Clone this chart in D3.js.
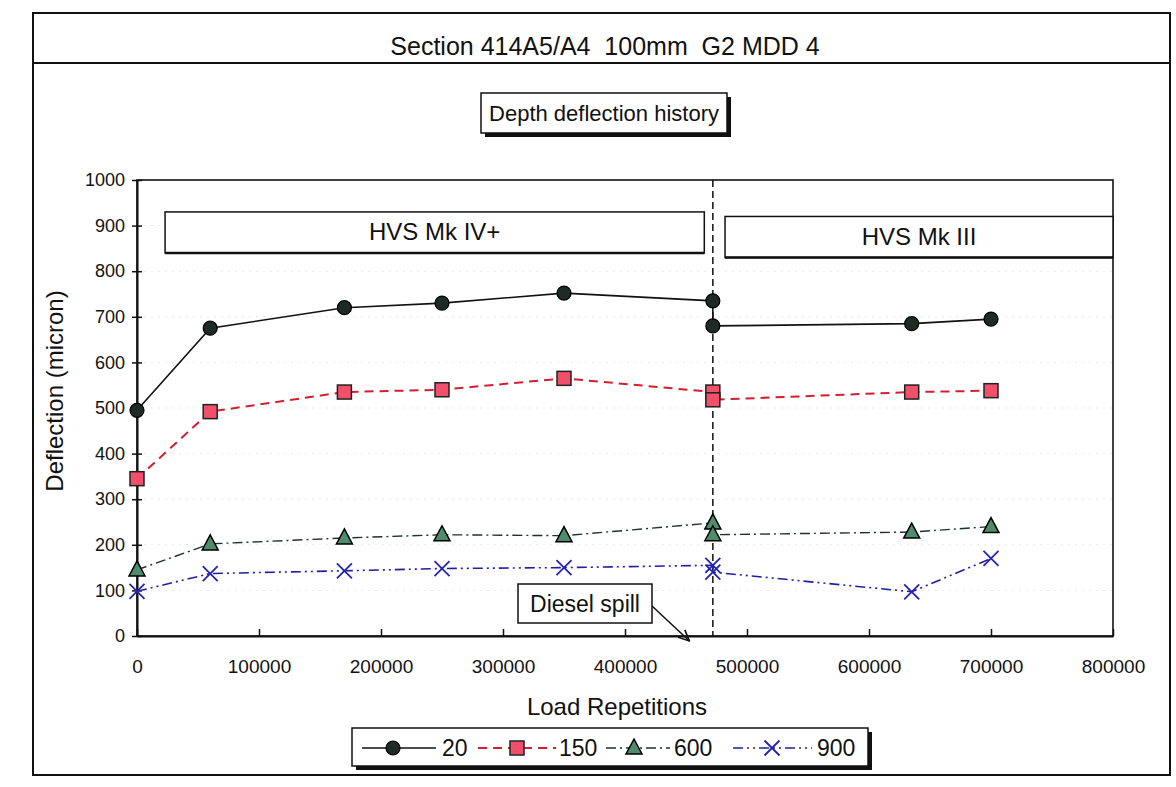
<!DOCTYPE html>
<html><head><meta charset="utf-8">
<script src="https://cdn.jsdelivr.net/npm/d3@7"></script>
<style>
body{margin:0;background:#fff}
svg{display:block}
text{font-family:"Liberation Sans",Arial,sans-serif;fill:#111;white-space:pre}
</style>
</head><body>
<svg id="c" width="1176" height="787"></svg>
<script>
// ---- data ----
const loadReps = [0, 60000, 170000, 250000, 350000, 472000, 472000, 635000, 700000];
const depth20  = [495, 675, 720, 730, 752, 735, 680, 685, 695];
const depth150 = [345, 492, 535, 540, 565, 535, 518, 535, 538];
const depth600 = [145, 202, 215, 222, 220, 248, 222, 228, 240];
const depth900 = [98, 137, 143, 148, 150, 155, 140, 97, 170];
const seriesNames = ["20", "150", "600", "900"];
const xTickValues = [0, 100000, 200000, 300000, 400000, 500000, 600000, 700000, 800000];
const yTickValues = [0, 100, 200, 300, 400, 500, 600, 700, 800, 900, 1000];
const spillRep = 472000;
const arrowTipRep = 452000;
const titleText = "Section 414A5/A4  100mm  G2 MDD 4";
const subTitle = "Depth deflection history";
const phaseLabels = ["HVS Mk IV+", "HVS Mk III"];

// ---- setup ----
const svg = d3.select("#c");
const m = {l: 137, r: 1113, t: 180, b: 636};
const x = d3.scaleLinear().domain([0, 800000]).range([m.l, m.r]);
const y = d3.scaleLinear().domain([0, 1000]).range([m.b, m.t]);
const FONT = "Liberation Sans, Arial, sans-serif";

// outer frame
svg.append("rect").attr("x", 33).attr("y", 13).attr("width", 1137).attr("height", 762)
  .attr("fill", "none").attr("stroke", "#111").attr("stroke-width", 2);
svg.append("line").attr("x1", 33).attr("x2", 1170).attr("y1", 63).attr("y2", 63)
  .attr("stroke", "#111").attr("stroke-width", 2);
svg.append("text").attr("x", 605).attr("y", 55).attr("text-anchor", "middle")
  .attr("font-size", 25).text(titleText);

// subtitle box with shadow
svg.append("rect").attr("x", 485).attr("y", 97).attr("width", 246).attr("height", 40).attr("fill", "#111");
svg.append("rect").attr("x", 481).attr("y", 93).attr("width", 246).attr("height", 40)
  .attr("fill", "#fff").attr("stroke", "#111").attr("stroke-width", 1.5);
svg.append("text").attr("x", 604).attr("y", 121).attr("text-anchor", "middle")
  .attr("font-size", 22).text(subTitle);

// faint grid
svg.append("g").selectAll("line").data(yTickValues.slice(1, -1)).join("line")
  .attr("x1", m.l).attr("x2", m.r).attr("y1", d => y(d)).attr("y2", d => y(d))
  .attr("stroke", "#e8e8e8").attr("stroke-dasharray", "2,5");

// plot frame
svg.append("rect").attr("x", m.l).attr("y", m.t).attr("width", m.r - m.l).attr("height", m.b - m.t)
  .attr("fill", "none").attr("stroke", "#111").attr("stroke-width", 1.6);

// axes
const gx = svg.append("g").attr("transform", `translate(0,${m.b})`)
  .call(d3.axisBottom(x).tickValues(xTickValues).tickFormat(d3.format("d")).tickSizeInner(-7).tickSizeOuter(0).tickPadding(24));
gx.select(".domain").attr("stroke", "#111").attr("stroke-width", 2);
gx.selectAll(".tick line").attr("stroke", "#111").attr("stroke-width", 1.5);
gx.selectAll(".tick text").attr("font-size", 19).attr("font-family", FONT).attr("fill", "#111");

const gy = svg.append("g").attr("transform", `translate(${m.l},0)`)
  .call(d3.axisLeft(y).tickValues(yTickValues).tickFormat(d3.format("d")).tickSizeInner(5).tickSizeOuter(0).tickPadding(7));
gy.select(".domain").attr("stroke", "#111").attr("stroke-width", 2);
gy.selectAll(".tick line").attr("x2", 5).attr("x1", -5).attr("stroke", "#111").attr("stroke-width", 1.5);
gy.selectAll(".tick text").attr("font-size", 18).attr("font-family", FONT).attr("fill", "#111");

svg.append("text").attr("transform", `translate(63,391) rotate(-90)`)
  .attr("text-anchor", "middle").attr("font-size", 24).text("Deflection (micron)");
svg.append("text").attr("x", 617).attr("y", 715).attr("text-anchor", "middle")
  .attr("font-size", 24).text("Load Repetitions");

// phase boxes
const phaseBoxes = [
  {x0: x(23000), x1: x(465000), y0: y(930), y1: y(840), label: phaseLabels[0]},
  {x0: x(482000), x1: x(800000), y0: y(920), y1: y(830), label: phaseLabels[1]}
];
phaseBoxes.forEach(b => {
  svg.append("rect").attr("x", b.x0).attr("y", b.y0).attr("width", b.x1 - b.x0).attr("height", b.y1 - b.y0)
    .attr("fill", "#fff").attr("stroke", "#111").attr("stroke-width", 1.5);
  svg.append("line").attr("x1", b.x0).attr("x2", b.x1).attr("y1", b.y1).attr("y2", b.y1)
    .attr("stroke", "#111").attr("stroke-width", 2.5);
  svg.append("text").attr("x", (b.x0 + b.x1) / 2).attr("y", (b.y0 + b.y1) / 2 + 8)
    .attr("text-anchor", "middle").attr("font-size", 24).text(b.label);
});

// spill line
svg.append("line").attr("x1", x(spillRep)).attr("x2", x(spillRep)).attr("y1", y(1000)).attr("y2", y(0))
  .attr("stroke", "#111").attr("stroke-width", 1.5).attr("stroke-dasharray", "7,4");

// series
const styles = [
  {vals: depth20, stroke: "#111", dash: null, w: 1.6, mark: "circle", fill: "#1d2b24", mstroke: "#000"},
  {vals: depth150, stroke: "#d21f2f", dash: "9,6", w: 2, mark: "square", fill: "#f0506a", mstroke: "#222"},
  {vals: depth600, stroke: "#1e3328", dash: "10,4,2,4", w: 1.4, mark: "triangle", fill: "#4f8c6c", mstroke: "#000"},
  {vals: depth900, stroke: "#1f1fa0", dash: "10,4,2,4,2,4", w: 1.6, mark: "x", fill: "none", mstroke: "#2424b0"}
];
const line = d3.line().x(d => x(d[0])).y(d => y(d[1]));

function drawMarker(g, type, cx, cy, s) {
  if (type === "circle") {
    g.append("circle").attr("cx", cx).attr("cy", cy).attr("r", 7)
      .attr("fill", s.fill).attr("stroke", s.mstroke).attr("stroke-width", 1.2);
  } else if (type === "square") {
    g.append("rect").attr("x", cx - 7).attr("y", cy - 7).attr("width", 14).attr("height", 14)
      .attr("fill", s.fill).attr("stroke", s.mstroke).attr("stroke-width", 1.5);
  } else if (type === "triangle") {
    g.append("path").attr("d", `M${cx},${cy - 9}L${cx + 8},${cy + 6}L${cx - 8},${cy + 6}Z`)
      .attr("fill", s.fill).attr("stroke", s.mstroke).attr("stroke-width", 1.5);
  } else {
    g.append("path").attr("d", `M${cx - 7.5},${cy - 7.5}L${cx + 7.5},${cy + 7.5}M${cx - 7.5},${cy + 7.5}L${cx + 7.5},${cy - 7.5}`)
      .attr("fill", "none").attr("stroke", s.mstroke).attr("stroke-width", 1.8);
  }
}

styles.forEach(s => {
  const pts = loadReps.map((r, i) => [r, s.vals[i]]);
  svg.append("path").attr("d", line(pts)).attr("fill", "none").attr("stroke", s.stroke)
    .attr("stroke-width", s.w).attr("stroke-dasharray", s.dash);
  const g = svg.append("g");
  pts.forEach(p => drawMarker(g, s.mark, x(p[0]), y(p[1]), s));
});

// Diesel spill annotation
svg.append("defs").append("marker").attr("id", "arr").attr("viewBox", "0 0 12 12")
  .attr("refX", 11).attr("refY", 6).attr("markerWidth", 12).attr("markerHeight", 12)
  .attr("markerUnits", "userSpaceOnUse").attr("orient", "auto")
  .append("path").attr("d", "M0,1L11,6L0,11").attr("fill", "none").attr("stroke", "#111").attr("stroke-width", 1.6);
svg.append("rect").attr("x", 518).attr("y", 584).attr("width", 134).attr("height", 39)
  .attr("fill", "#fff").attr("stroke", "#111").attr("stroke-width", 1.5);
svg.append("text").attr("x", 585).attr("y", 612).attr("text-anchor", "middle").attr("font-size", 23).text("Diesel spill");
svg.append("line").attr("x1", 652).attr("y1", 606).attr("x2", x(arrowTipRep) + 1).attr("y2", y(0) + 5)
  .attr("stroke", "#111").attr("stroke-width", 1.5).attr("marker-end", "url(#arr)");

// legend
const lg = svg.append("g");
lg.append("rect").attr("x", 356).attr("y", 732).attr("width", 516).attr("height", 38).attr("fill", "#111");
lg.append("rect").attr("x", 352).attr("y", 728).attr("width", 516).attr("height", 38)
  .attr("fill", "#fff").attr("stroke", "#111").attr("stroke-width", 1.5);
const legPos = [
  {l0: 362, l1: 436, mx: 393, tx: 442},
  {l0: 478, l1: 556, mx: 517, tx: 559},
  {l0: 606, l1: 670, mx: 634, tx: 674},
  {l0: 733, l1: 812, mx: 772, tx: 817}
];
styles.forEach((s, i) => {
  const p = legPos[i], cy = 748;
  lg.append("line").attr("x1", p.l0).attr("x2", p.l1).attr("y1", cy).attr("y2", cy)
    .attr("stroke", s.stroke).attr("stroke-width", s.w).attr("stroke-dasharray", s.dash);
  drawMarker(lg, s.mark, p.mx, cy, s);
  lg.append("text").attr("x", p.tx).attr("y", cy + 8).attr("font-size", 23).text(seriesNames[i]);
});
</script>
</body></html>
